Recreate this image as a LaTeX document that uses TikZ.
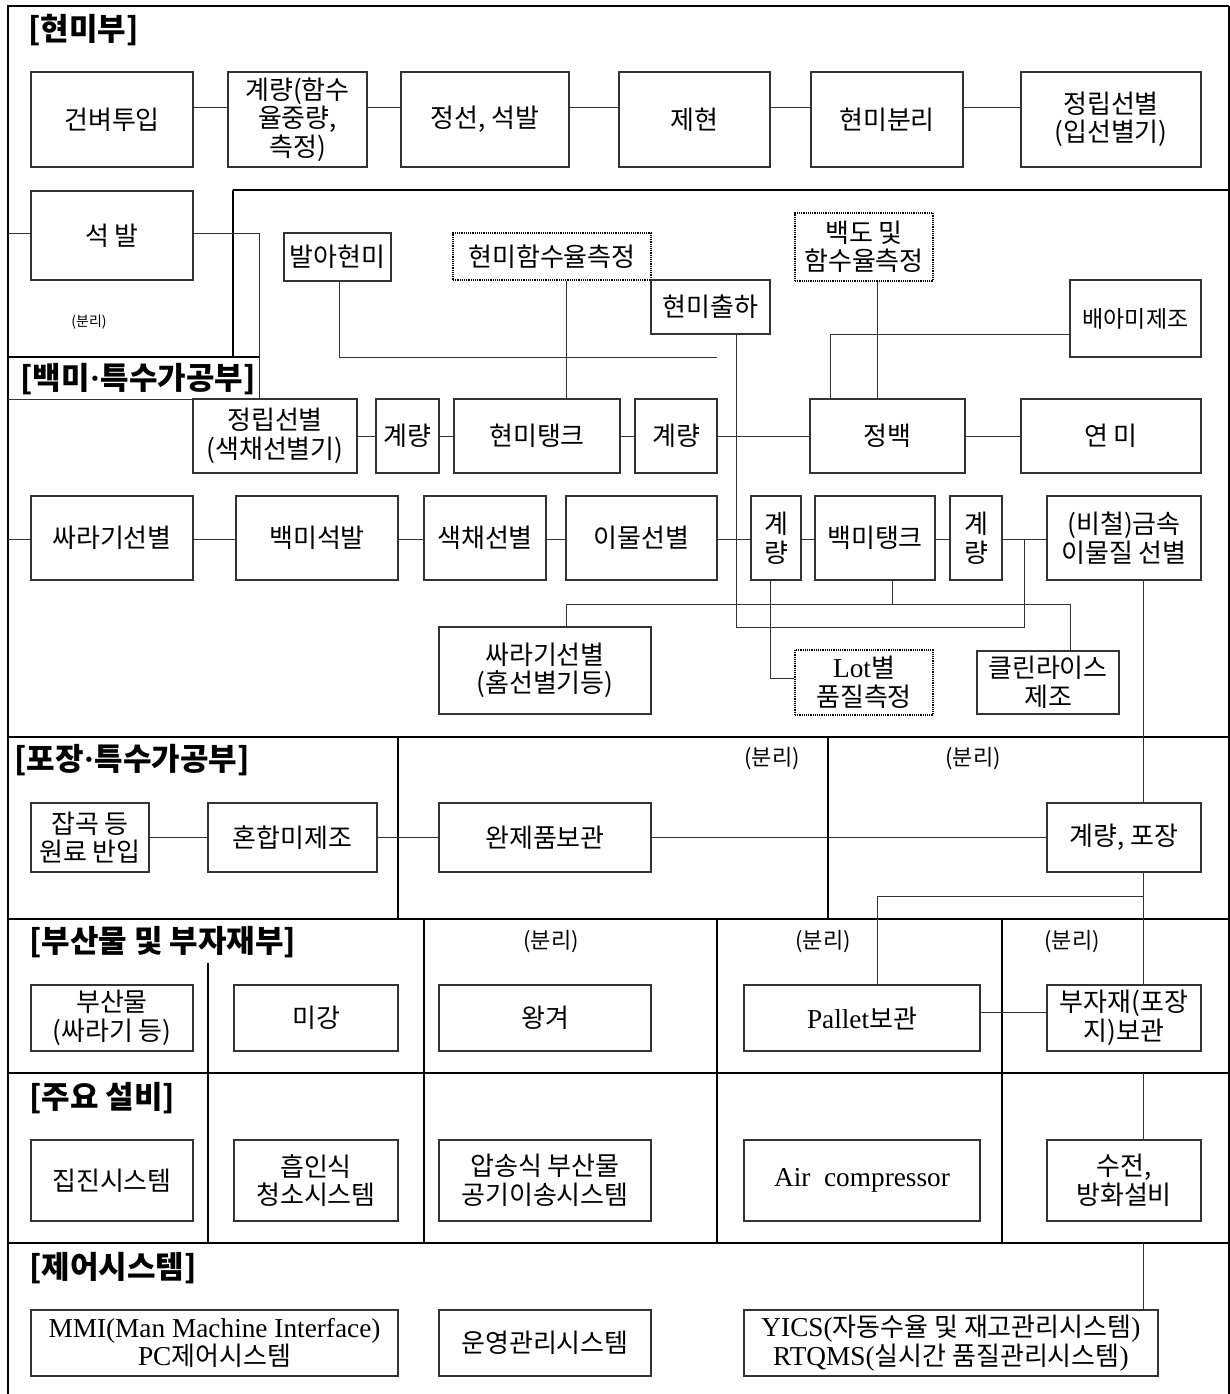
\documentclass[tikz,border=0pt]{standalone}
\usepackage{fontspec}
\setmainfont{Noto Sans CJK KR}
\newfontfamily\lat{Liberation Serif}[Scale=1.05]
\usetikzlibrary{fit}
\newcommand\fs{\fontsize{26}{28.5}\selectfont}
\newcommand\mdot{{\lat\bfseries ·}}
\tikzset{
  box/.style={draw=black!80, line width=1.2pt, inner sep=0pt},
  dbox/.style={box, draw=black, densely dotted, line width=2pt},
  txt/.style={inner sep=0pt, align=center, font=\fs},
  sec/.style={line width=2.6pt, black},
  vsec/.style={line width=2pt, black},
  con/.style={line width=1pt, black!80},
  lab/.style={anchor=west, inner sep=0pt, font=\bfseries\fontsize{31}{34}\selectfont},
  sepl/.style={inner sep=0pt, font=\fontsize{22}{24}\selectfont},
}
\newcommand\bx[7][box]{\node[#1, fit={(#3,#4) (#5,#6)}] (#2) {};
  \node[txt] (#2t) at (#2.center) {#7};}
\begin{document}
\begin{tikzpicture}[x=1pt,y=-1pt]
\useasboundingbox (0,0) rectangle (1230,1394);
% frame
\draw[line width=2.6pt] (8,1394) -- (8,6) -- (1229,6);
\draw[line width=1.8pt] (1229,6) -- (1229,1394);
% section lines
\draw[sec] (233,190) -- (1229,190);
\draw[sec] (233,190) -- (233,357);
\draw[sec] (8,357) -- (259,357);
\draw[sec] (8,737) -- (1229,737);
\draw[vsec] (398,737) -- (398,919);
\draw[vsec] (828,737) -- (828,919);
\draw[sec] (8,919) -- (1229,919);
\draw[vsec] (208,963) -- (208,1243);
\draw[vsec] (424,919) -- (424,1243);
\draw[vsec] (717,919) -- (717,1243);
\draw[vsec] (1002,919) -- (1002,1243);
\draw[sec] (8,1073) -- (1229,1073);
\draw[sec] (8,1243) -- (1229,1243);
% section labels
\node[lab] (L1) at (28,30) {[현미부]};
\node[lab] (L2) at (20,379) {[백미\mdot 특수가공부]};
\node[lab] (L3) at (14,760) {[포장\mdot 특수가공부]};
\node[lab] (L4) at (29,942) {[부산물 및 부자재부]};
\node[lab] (L5) at (29,1098) {[주요 설비]};
\node[lab] (L6) at (29,1268) {[제어시스템]};
% (분리) labels
\node[inner sep=0pt, font=\fontsize{14}{16}\selectfont] (S0) at (89,322) {(분리)};
\node[sepl] (S1) at (772,759) {(분리)};
\node[sepl] (S2) at (973,759) {(분리)};
\node[sepl] (S3) at (551,942) {(분리)};
\node[sepl] (S4) at (823,942) {(분리)};
\node[sepl] (S5) at (1072,942) {(분리)};
% ---- boxes: 현미부
\bx{a1}{31}{72}{193}{167}{건벼투입}
\bx{a2}{228}{72}{367}{167}{계량(함수\\율중량,\\측정)}
\bx{a3}{401}{72}{569}{167}{정선, 석발}
\bx{a4}{619}{72}{770}{167}{제현}
\bx{a5}{811}{72}{963}{167}{현미분리}
\bx{a6}{1021}{72}{1201}{167}{정립선별\\(입선별기)}
\bx{a7}{31}{191}{193}{280}{석 발}
% ---- 백미
\bx{b1}{284}{233}{391}{281}{발아현미}
\bx[dbox]{b2}{453}{233}{651}{280}{현미함수율측정}
\bx{b3}{651}{280}{770}{334}{현미출하}
\bx[dbox]{b4}{795}{213}{933}{281}{백도 및\\함수율측정}
\bx{b5}{1070}{280}{1201}{357}{{\fontsize{23}{26}\selectfont 배아미제조}}
\bx{c1}{193}{399}{357}{473}{정립선별\\(색채선별기)}
\bx{c2}{376}{399}{439}{473}{계량}
\bx{c3}{454}{399}{620}{473}{현미탱크}
\bx{c4}{635}{399}{717}{473}{계량}
\bx{c5}{810}{399}{965}{473}{정백}
\bx{c6}{1021}{399}{1201}{473}{연 미}
\bx{d1}{31}{496}{193}{580}{싸라기선별}
\bx{d2}{236}{496}{398}{580}{백미석발}
\bx{d3}{424}{496}{546}{580}{색채선별}
\bx{d4}{566}{496}{717}{580}{이물선별}
\bx{d5}{751}{496}{801}{580}{계\\량}
\bx{d6}{815}{496}{935}{580}{백미탱크}
\bx{d7}{950}{496}{1002}{580}{계\\량}
\bx{d8}{1047}{496}{1201}{580}{(비철)금속\\이물질 선별}
\bx{e1}{439}{627}{651}{714}{싸라기선별\\(홈선별기등)}
\bx[dbox]{e2}{795}{650}{933}{715}{{\lat Lot}별\\품질측정}
\bx{e3}{977}{651}{1119}{714}{클린라이스\\제조}
% ---- 포장
\bx{f1}{31}{803}{149}{872}{잡곡 등\\원료 반입}
\bx{f2}{208}{803}{377}{872}{혼합미제조}
\bx{f3}{439}{803}{651}{872}{완제품보관}
\bx{f4}{1047}{803}{1201}{872}{계량, 포장}
% ---- 부산물
\bx{g1}{31}{985}{193}{1051}{부산물\\(싸라기 등)}
\bx{g2}{234}{985}{398}{1051}{미강}
\bx{g3}{439}{985}{651}{1051}{왕겨}
\bx{g4}{744}{985}{980}{1051}{{\lat Pallet}보관}
\bx{g5}{1047}{985}{1201}{1051}{부자재(포장\\지)보관}
% ---- 주요 설비
\bx{h1}{31}{1140}{193}{1221}{집진시스템}
\bx{h2}{234}{1140}{398}{1221}{흡인식\\청소시스템}
\bx{h3}{439}{1140}{651}{1221}{압송식 부산물\\공기이송시스템}
\bx{h4}{744}{1140}{980}{1221}{{\lat Air\ \ compressor}}
\bx{h5}{1047}{1140}{1201}{1221}{수전,\\방화설비}
% ---- 제어
\bx{i1}{31}{1310}{398}{1376}{{\lat MMI(Man Machine Interface)}\\{\lat PC}제어시스템}
\bx{i2}{439}{1310}{651}{1376}{운영관리시스템}
\bx{i3}{744}{1310}{1158}{1376}{{\lat YICS(}자동수율 및 재고관리시스템{\lat )}\\{\lat RTQMS(}실시간 품질관리시스템{\lat )}}
% ---- connectors
\draw[con] ([yshift=11.5pt]a1.east) -- ([yshift=11.5pt]a2.west);
\draw[con] ([yshift=11.5pt]a2.east) -- ([yshift=11.5pt]a3.west);
\draw[con] ([yshift=11.5pt]a3.east) -- ([yshift=11.5pt]a4.west);
\draw[con] ([yshift=11.5pt]a4.east) -- ([yshift=11.5pt]a5.west);
\draw[con] ([yshift=11.5pt]a5.east) -- ([yshift=11.5pt]a6.west);
\coordinate (s0) at (8,233);
\coordinate (k0) at (8,399);
\coordinate (k1) at (259,399);
\draw[con] (s0) -- (a7.west |- s0);
\draw[con] (a7.east |- s0) -| (k1);
\draw[con] (k0) -- (k1);
\coordinate (e357) at (717,357);
\draw[con] (b1.south -| 339,0) |- (e357);
\draw[con] (b2.south -| 566,0) -- (c3.north -| 566,0);
\coordinate (j1) at (1024,539);
\draw[con] (b3.south -| 736,0) -- (736,627) -| (j1);
\draw[con] (b5.west |- 0,334) -| (c5.north -| 830,0);
\draw[con] (b4.south -| 877,0) -- (c5.north -| 877,0);
\draw[con] (c1.east) -- (c2.west);
\draw[con] (c2.east) -- (c3.west);
\draw[con] (c3.east) -- (c4.west);
\draw[con] (c4.east) -- (c5.west);
\draw[con] (c5.east) -- (c6.west);
\coordinate (r0) at (8,539);
\draw[con] (r0) -- (d1.west |- r0);
\draw[con] (d1.east |- r0) -- (d2.west |- r0);
\draw[con] (d2.east |- r0) -- (d3.west |- r0);
\draw[con] (d3.east |- r0) -- (d4.west |- r0);
\draw[con] (d4.east |- r0) -- (d5.west |- r0);
\draw[con] (d5.east |- r0) -- (d6.west |- r0);
\draw[con] (d6.east |- r0) -- (d7.west |- r0);
\draw[con] (d7.east |- r0) -- (d8.west |- r0);
\draw[con] (d6.south -| 892,0) -- (892,604);
\draw[con] (e1.north -| 566,0) -- (566,604) -| (e3.north -| 1070,0);
\draw[con] (d5.south -| 770,0) |- (e2.west |- 0,678);
\draw[con] (d8.south -| 1143,0) -- (f4.north -| 1143,0);
\draw[con] (f4.south -| 1143,0) -- (g5.north -| 1143,0);
\coordinate (p0) at (1143,896);
\draw[con] (p0) -| (g4.north -| 877,0);
\coordinate (q0) at (1143,1073);
\draw[con] (q0) -- (h5.north -| q0);
\coordinate (q1) at (1143,1243);
\draw[con] (q1) -- (i3.north -| q1);
\draw[con] (f1.east) -- (f2.west);
\draw[con] (f2.east) -- (f3.west);
\draw[con] (f3.east) -- (f4.west);
\draw[con] ([yshift=6pt]g4.east) -- ([yshift=6pt]g5.west);
\end{tikzpicture}
\end{document}
